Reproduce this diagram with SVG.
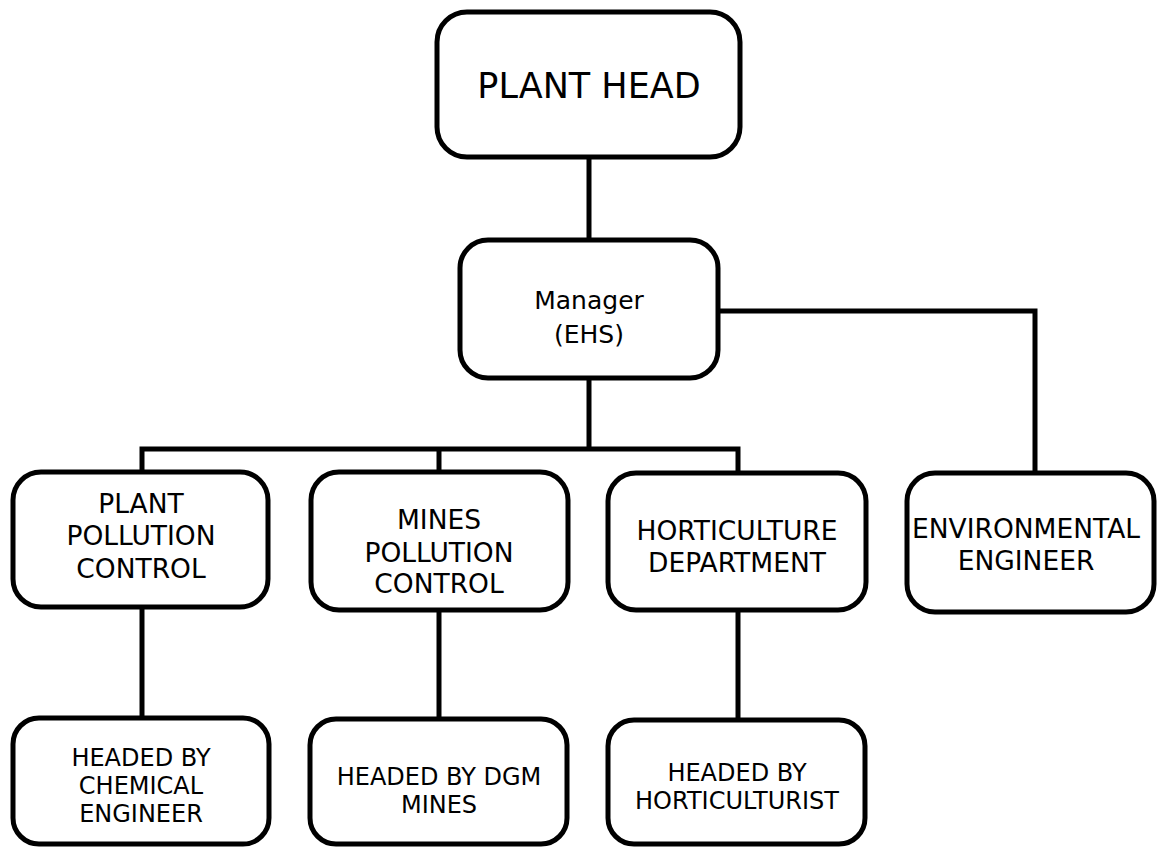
<svg xmlns="http://www.w3.org/2000/svg" width="1157" height="848" viewBox="0 0 1157 848">
<style>
.box{fill:#fff;stroke:#000;stroke-width:5}
.ln{fill:none;stroke:#000;stroke-width:5;stroke-linejoin:miter}
text{font-family:"DejaVu Sans",Verdana,sans-serif;fill:#000;text-anchor:middle}
.t1{font-size:35px}
.t2{font-size:25px}
.t3{font-size:26.5px}
.t4{font-size:24px}
</style>
<rect width="1157" height="848" fill="#fff"/>
<g id="connectors">
<path class="ln" d="M589 157V240"/>
<path class="ln" d="M718 311H1035V473"/>
<path class="ln" d="M589 378V449"/>
<path class="ln" d="M142 472V449H738V473"/>
<path class="ln" d="M439 449V472"/>
<path class="ln" d="M142 607V718"/>
<path class="ln" d="M439 610V719"/>
<path class="ln" d="M738 610V720"/>
</g>
<g id="plant-head">
<rect class="box" x="437" y="12" width="303" height="145" rx="30"/>
<text class="t1" x="589" y="98">PLANT HEAD</text>
</g>
<g id="manager">
<rect class="box" x="460" y="240" width="258" height="138" rx="28"/>
<text class="t2" x="589" y="309">Manager</text>
<text class="t2" x="589" y="343">(EHS)</text>
</g>
<g id="plant-pollution">
<rect class="box" x="13" y="472" width="255" height="135" rx="28"/>
<text class="t3" x="141" y="513">PLANT</text>
<text class="t3" x="141" y="545">POLLUTION</text>
<text class="t3" x="141" y="578">CONTROL</text>
</g>
<g id="mines-pollution">
<rect class="box" x="311" y="472" width="257" height="138" rx="28"/>
<text class="t3" x="439" y="529">MINES</text>
<text class="t3" x="439" y="562">POLLUTION</text>
<text class="t3" x="439" y="593">CONTROL</text>
</g>
<g id="horticulture">
<rect class="box" x="608" y="473" width="258" height="137" rx="28"/>
<text class="t3" x="737" y="540">HORTICULTURE</text>
<text class="t3" x="737" y="572">DEPARTMENT</text>
</g>
<g id="environmental">
<rect class="box" x="907" y="473" width="247" height="139" rx="28"/>
<text class="t3" x="1026" y="538">ENVIRONMENTAL</text>
<text class="t3" x="1026" y="570">ENGINEER</text>
</g>
<g id="chemical">
<rect class="box" x="13" y="718" width="256" height="126" rx="26"/>
<text class="t4" x="141" y="766">HEADED BY</text>
<text class="t4" x="141" y="794">CHEMICAL</text>
<text class="t4" x="141" y="822">ENGINEER</text>
</g>
<g id="dgm">
<rect class="box" x="310" y="719" width="257" height="125" rx="26"/>
<text class="t4" x="439" y="785">HEADED BY DGM</text>
<text class="t4" x="439" y="813">MINES</text>
</g>
<g id="horticulturist">
<rect class="box" x="608" y="720" width="257" height="124" rx="26"/>
<text class="t4" x="737" y="781">HEADED BY</text>
<text class="t4" x="737" y="809">HORTICULTURIST</text>
</g>
</svg>
